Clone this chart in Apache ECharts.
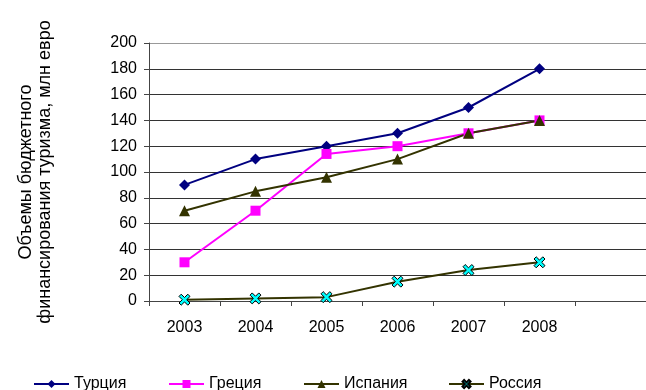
<!DOCTYPE html>
<html><head><meta charset="utf-8">
<script src="https://cdn.jsdelivr.net/npm/echarts@6/dist/echarts.min.js"></script>
<style>html,body{margin:0;padding:0;background:#fff}#c{width:646px;height:390px}</style>
</head><body><div id="c"></div>
<script>
var categories = ['2003','2004','2005','2006','2007','2008',''];
var turkey = [90, 110, 120, 130, 150, 180];
var greece = [30, 70, 114, 120, 130, 140];
var spain = [70, 85, 96, 110, 130, 140];
var russia = [1, 2, 3, 15, 24, 30];
var seriesNames = ['Турция','Греция','Испания','Россия'];
var yTicks = {min: 0, max: 200, interval: 20};

var font = 'Liberation Sans, Arial, sans-serif';
var xPath = 'path://M0,2 L2,0 L5,3 L8,0 L10,2 L7,5 L10,8 L8,10 L5,7 L2,10 L0,8 L3,5 Z';
function mk(name, data, color, symbol, size, mColor, mBorder) {
  return {
    name: name, type: 'line', data: data, symbol: symbol, symbolSize: size,
    lineStyle: {color: color, width: 2},
    itemStyle: {color: mColor || color, borderColor: mBorder || color, borderWidth: mBorder ? 1 : 0},
    emphasis: {disabled: true}, animation: false
  };
}
var legendLefts = [28, 163, 298, 443];
var chart = echarts.init(document.getElementById('c'));
chart.setOption({
  backgroundColor: '#fff',
  textStyle: {fontFamily: font},
  grid: {left: 149, right: 0, top: 43, bottom: 89},
  legend: seriesNames.map(function (n, i) {
    return {data: [n], left: legendLefts[i], top: 371, itemWidth: 35, itemHeight: 10, itemGap: 5,
      textStyle: {fontSize: 16, color: '#000', fontFamily: font}};
  }),
  xAxis: {
    type: 'category', data: categories, boundaryGap: true,
    axisLine: {lineStyle: {color: '#444', width: 1}},
    axisTick: {show: true, length: 5, inside: false, lineStyle: {color: '#444'}},
    axisLabel: {color: '#000', fontSize: 16, margin: 19, fontFamily: font}
  },
  yAxis: {
    type: 'value', min: yTicks.min, max: yTicks.max, interval: yTicks.interval,
    name: 'Объемы бюджетного\nфинансирования туризма, млн евро',
    nameLocation: 'middle', nameGap: 94, nameRotate: 90,
    nameTextStyle: {fontSize: 18, color: '#000', lineHeight: 19, fontFamily: font},
    axisLine: {show: true, lineStyle: {color: '#444', width: 1}},
    axisTick: {show: true, length: 5, lineStyle: {color: '#444'}},
    axisLabel: {color: '#000', fontSize: 16, margin: 12, fontFamily: font},
    splitLine: {show: true, lineStyle: {color: ['#333','#333','#333','#333','#333','#333','#333','#333','#333','#333','#999'], width: 1}}
  },
  series: [
    mk(seriesNames[0], turkey, '#000080', 'diamond', 11),
    mk(seriesNames[1], greece, '#FF00FF', 'rect', 10),
    mk(seriesNames[2], spain, '#333300', 'triangle', 11),
    mk(seriesNames[3], russia, '#333300', xPath, 11, '#00FFFF', '#000')
  ]
});
</script></body></html>
